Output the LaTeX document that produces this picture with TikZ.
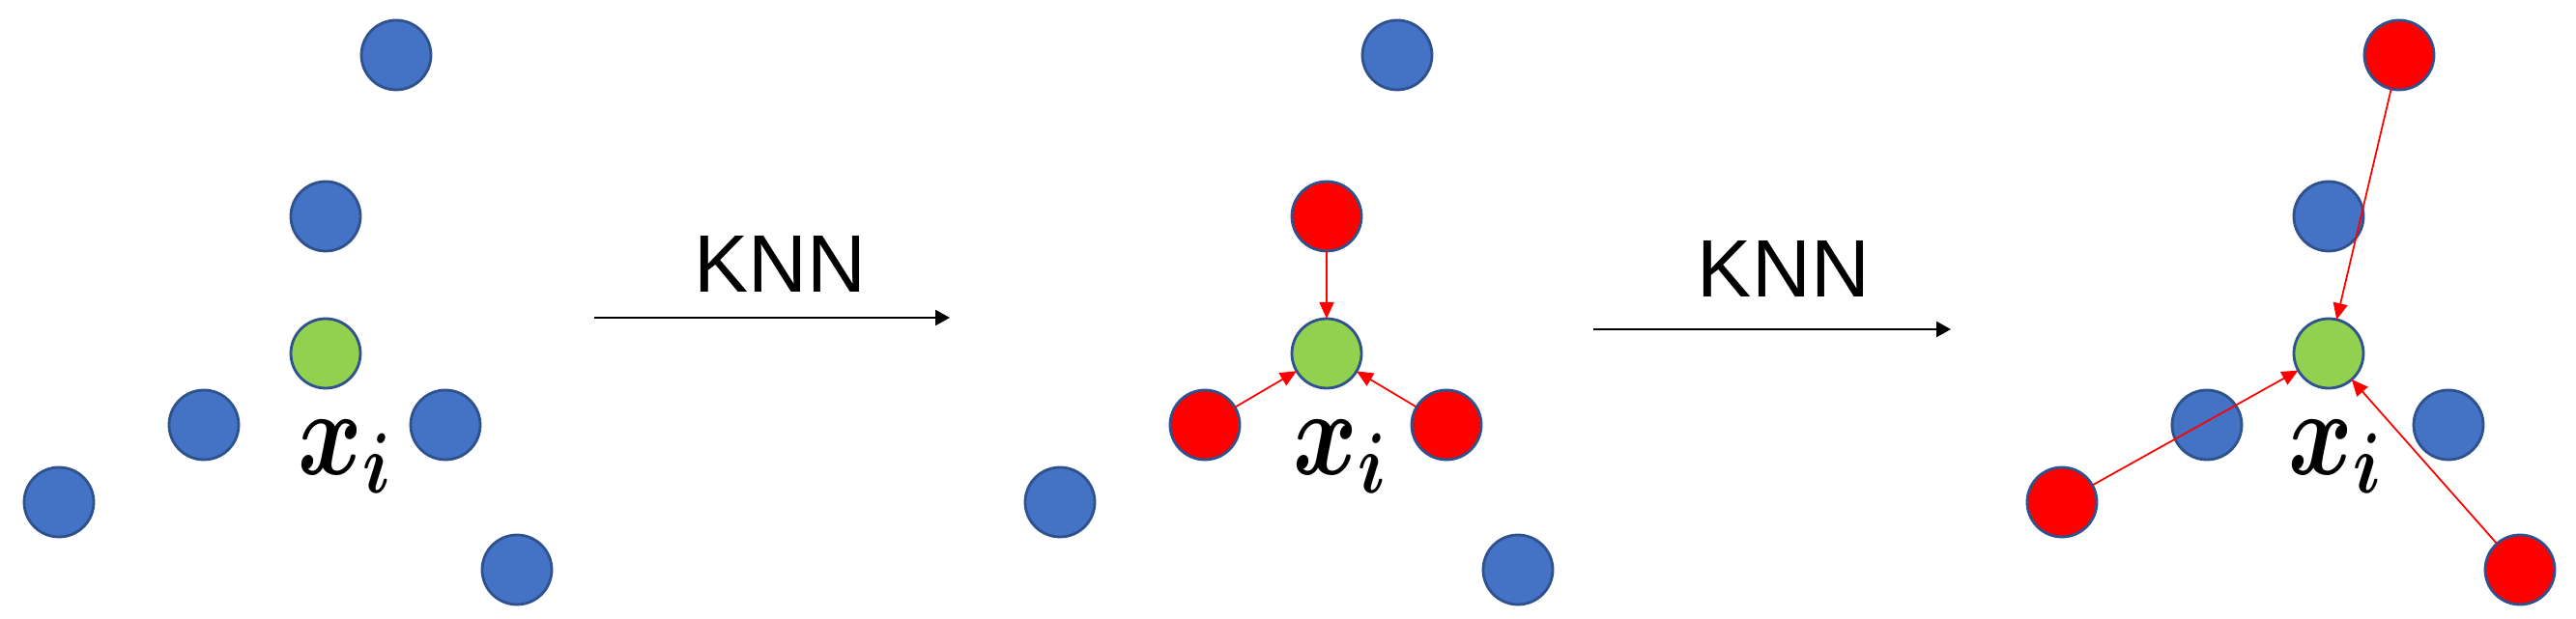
\RequirePackage{fix-cm}
\documentclass[tikz,border=0pt]{standalone}
\usepackage{fontspec}
\setmainfont{Liberation Sans}
\usetikzlibrary{arrows.meta}
\definecolor{ptblue}{HTML}{4472C4}
\definecolor{ptgreen}{HTML}{92D050}
\definecolor{ptred}{HTML}{FF0000}
\definecolor{ptedge}{HTML}{2F528F}
\newcommand{\xilab}{\scalebox{0.8}[1]{\boldmath$x_i$}}
\begin{document}
\begin{tikzpicture}[x=1cm,y=1cm,
  dot/.style={circle,draw=ptedge,line width=0.8pt,minimum size=0.72cm,inner sep=0pt,outer sep=0pt},
  bluedot/.style={dot,fill=ptblue},
  reddot/.style={dot,fill=ptred},
  greendot/.style={dot,fill=ptgreen},
  nnarrow/.style={draw=ptred,line width=0.5pt,-{Triangle[length=0.17cm,width=0.15cm]}},
  knnarrow/.style={draw=black,line width=0.7pt,-{Triangle[length=0.15cm,width=0.16cm]}},
  knnlabel/.style={anchor=base,inner sep=0pt,font=\fontsize{24}{28}\selectfont},
  xilabel/.style={anchor=base,inner sep=0pt,font=\fontsize{36}{40}\selectfont}
]
\useasboundingbox (0,0) rectangle (26.66,6.41);

% panel 1
\node[bluedot] (a1) at (4.10,5.84) {};
\node[bluedot] (b1) at (3.37,4.17) {};
\node[greendot] (g1) at (3.37,2.75) {};
\node[bluedot] (l1) at (2.11,2.01) {};
\node[bluedot] (r1) at (4.61,2.01) {};
\node[bluedot] (f1) at (0.61,1.21) {};
\node[bluedot] (d1) at (5.35,0.51) {};
\node[xilabel] (x1) at (3.57,1.49) {\xilab};

% first KNN arrow
\coordinate (s1) at (6.15,3.12);
\coordinate (e1) at (9.83,3.12);
\draw[knnarrow] (s1) -- (e1);
\node[knnlabel] (k1) at (8.075,3.38) {KNN};

% panel 2
\begin{scope}[xshift=10.36cm]
\node[bluedot] (a2) at (4.10,5.84) {};
\node[reddot] (b2) at (3.37,4.17) {};
\node[greendot] (g2) at (3.37,2.75) {};
\node[reddot] (l2) at (2.11,2.01) {};
\node[reddot] (r2) at (4.61,2.01) {};
\node[bluedot] (f2) at (0.61,1.21) {};
\node[bluedot] (d2) at (5.35,0.51) {};
\node[xilabel] (x2) at (3.51,1.49) {\xilab};
\draw[nnarrow] (b2) -- (g2);
\draw[nnarrow] (l2) -- (g2);
\draw[nnarrow] (r2) -- (g2);
\end{scope}

% second KNN arrow
\coordinate (s2) at (16.49,3.00);
\coordinate (e2) at (20.19,3.00);
\draw[knnarrow] (s2) -- (e2);
\node[knnlabel] (k2) at (18.46,3.33) {KNN};

% panel 3
\begin{scope}[xshift=20.73cm]
\node[reddot] (a3) at (4.10,5.84) {};
\node[bluedot] (b3) at (3.37,4.17) {};
\node[greendot] (g3) at (3.37,2.75) {};
\node[bluedot] (l3) at (2.11,2.01) {};
\node[bluedot] (r3) at (4.61,2.01) {};
\node[reddot] (f3) at (0.61,1.21) {};
\node[reddot] (d3) at (5.35,0.51) {};
\node[xilabel] (x3) at (3.44,1.49) {\xilab};
\draw[nnarrow] (a3) -- (g3);
\draw[nnarrow] (f3) -- (g3);
\draw[nnarrow] (d3) -- (g3);
\end{scope}
\end{tikzpicture}
\end{document}
